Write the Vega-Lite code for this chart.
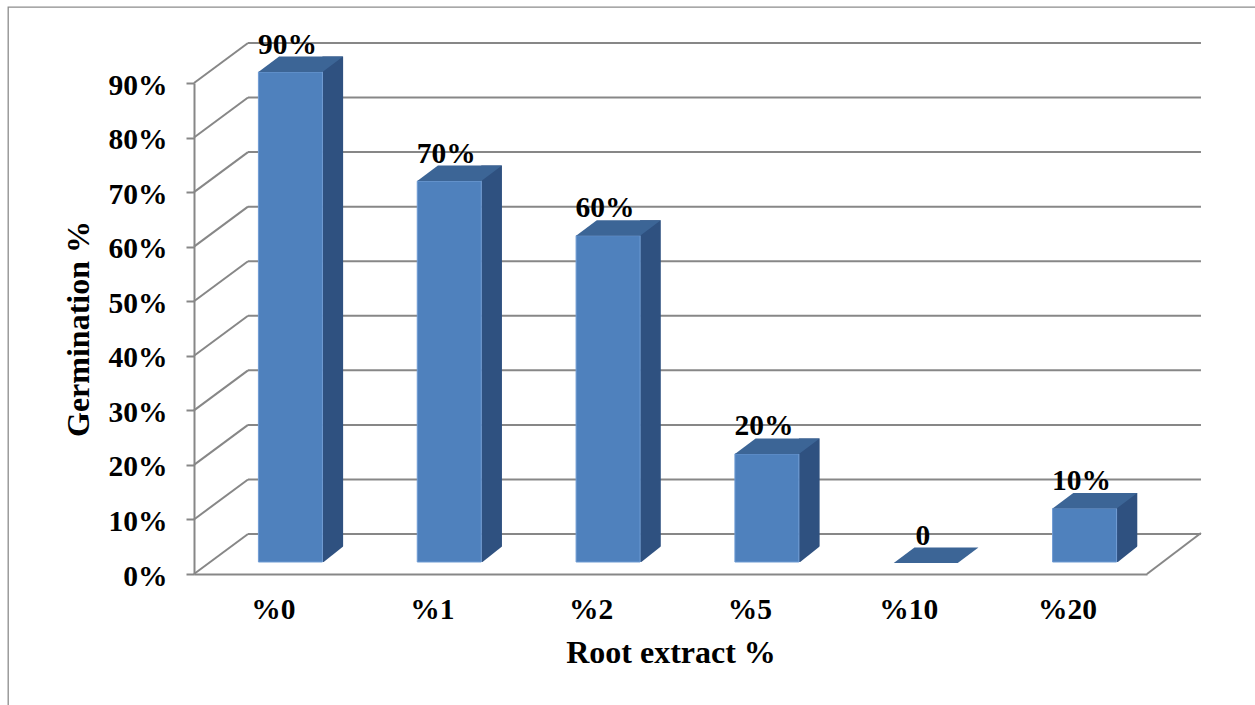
{
  "$schema": "https://vega.github.io/schema/vega-lite/v6.json",
  "width": 1249,
  "height": 700,
  "autosize": {"type": "none"},
  "padding": {"left": 8, "top": 7, "right": -2, "bottom": -2},
  "background": "white",
  "config": {
    "view": {"stroke": "#8c8c8c", "strokeWidth": 1.3},
    "font": "Liberation Serif",
    "axis": {
      "grid": false,
      "domainColor": "#878787",
      "domainWidth": 2,
      "labelFont": "Liberation Serif",
      "labelFontWeight": "bold",
      "labelFontSize": 29.5,
      "labelColor": "black",
      "titleFont": "Liberation Serif",
      "titleFontWeight": "bold",
      "titleFontSize": 32,
      "titleColor": "black"
    },
    "axisX": {"offset": -133, "ticks": false, "labelAngle": 0, "labelPadding": 21, "titlePadding": 14},
    "axisY": {"offset": -186, "tickColor": "#878787", "tickWidth": 2, "tickSize": 8, "labelPadding": 19, "labelOffset": 2, "titlePadding": 13}
  },
  "datasets": {
    "germination": [
      {"dose": "%0", "germination": 0.9, "label": "90%"},
      {"dose": "%1", "germination": 0.7, "label": "70%"},
      {"dose": "%2", "germination": 0.6, "label": "60%"},
      {"dose": "%5", "germination": 0.2, "label": "20%"},
      {"dose": "%10", "germination": 0.0, "label": "0"},
      {"dose": "%20", "germination": 0.1, "label": "10%"}
    ],
    "gridlines": [
      {"tick": 0.0}, {"tick": 0.1}, {"tick": 0.2}, {"tick": 0.3}, {"tick": 0.4},
      {"tick": 0.5}, {"tick": 0.6}, {"tick": 0.7}, {"tick": 0.8}, {"tick": 0.9}
    ]
  },
  "layer": [
    {
      "description": "back wall gridlines",
      "data": {"name": "gridlines"},
      "mark": {"type": "rule", "color": "#878787", "strokeWidth": 2, "xOffset": 54, "x2Offset": 212.8, "yOffset": -40},
      "encoding": {
        "x": {"datum": "%0", "bandPosition": 0},
        "x2": {"datum": "%20", "bandPosition": 0},
        "y": {"field": "tick", "type": "quantitative", "title": "Germination %"}
      }
    },
    {
      "description": "side wall diagonals",
      "data": {"name": "gridlines"},
      "mark": {"type": "rule", "color": "#878787", "strokeWidth": 2, "x2Offset": 54, "y2Offset": -40},
      "encoding": {
        "x": {"datum": "%0", "bandPosition": 0},
        "x2": {"datum": "%0", "bandPosition": 0},
        "y": {"field": "tick", "type": "quantitative", "title": "Germination %"},
        "y2": {"field": "tick"}
      }
    },
    {
      "description": "floor edge on the right",
      "data": {"values": [{"tick": 0}]},
      "mark": {"type": "rule", "color": "#878787", "strokeWidth": 2, "xOffset": 158.8, "x2Offset": 212.8, "y2Offset": -41},
      "encoding": {
        "x": {"datum": "%20", "bandPosition": 0},
        "x2": {"datum": "%20", "bandPosition": 0},
        "y": {"field": "tick", "type": "quantitative", "title": "Germination %"},
        "y2": {"field": "tick"}
      }
    },
    {
      "description": "bar side faces",
      "data": {"name": "germination"},
      "transform": [{"filter": "datum.germination > 0"}],
      "mark": {"type": "bar", "width": 20.7, "xOffset": 59.35, "yOffset": -26.5, "y2Offset": -12, "color": "#2F5180", "opacity": 1},
      "encoding": {
        "x": {"field": "dose", "type": "nominal", "sort": null, "title": "Root extract %"},
        "y": {"field": "germination", "type": "quantitative", "title": "Germination %"},
        "y2": {"datum": 0}
      }
    },
    {
      "description": "trim below the slanted bottom edge of each side face",
      "data": {"name": "germination"},
      "transform": [{"filter": "datum.germination > 0"}],
      "mark": {"type": "point", "shape": "M0,1L22,1L22,-16.5Z", "size": 4, "filled": true, "color": "white", "strokeWidth": 0, "opacity": 1, "xOffset": 49, "yOffset": -12},
      "encoding": {
        "x": {"field": "dose", "type": "nominal", "sort": null, "title": "Root extract %"},
        "y": {"datum": 0, "type": "quantitative"}
      }
    },
    {
      "description": "bar front faces",
      "data": {"name": "germination"},
      "transform": [{"filter": "datum.germination > 0"}],
      "mark": {"type": "bar", "width": 64, "xOffset": 17, "yOffset": -11, "y2Offset": -12, "color": "#4F81BD", "stroke": "#6f9bd3", "strokeWidth": 1, "opacity": 1},
      "encoding": {
        "x": {
          "field": "dose",
          "type": "nominal",
          "sort": null,
          "title": "Root extract %",
          "scale": {"domain": ["%0", "%1", "%2", "%5", "%10", "%20"], "range": [186, 1139], "paddingInner": 0, "paddingOuter": 0},
          "axis": {"orient": "bottom"}
        },
        "y": {
          "field": "germination",
          "type": "quantitative",
          "title": "Germination %",
          "scale": {"domain": [0, 0.9], "range": [567, 76], "nice": false, "zero": false},
          "axis": {
            "orient": "left",
            "values": [0, 0.1, 0.2, 0.3, 0.4, 0.5, 0.6, 0.7, 0.8, 0.9],
            "format": ".0%"
          }
        },
        "y2": {"datum": 0}
      }
    },
    {
      "description": "bar top faces",
      "data": {"name": "germination"},
      "mark": {"type": "point", "shape": "M0,0L64,0L84.7,-15.5L20.7,-15.5Z", "size": 4, "filled": true, "color": "#3C6596", "strokeWidth": 0, "opacity": 1, "xOffset": -15, "yOffset": -11},
      "encoding": {
        "x": {"field": "dose", "type": "nominal", "sort": null, "title": "Root extract %"},
        "y": {"field": "germination", "type": "quantitative", "title": "Germination %"}
      }
    },
    {
      "description": "value labels",
      "data": {"name": "germination"},
      "mark": {"type": "text", "font": "Liberation Serif", "fontWeight": "bold", "fontSize": 29.5, "color": "black", "align": "center", "baseline": "alphabetic", "xOffset": 14, "yOffset": -29.5},
      "encoding": {
        "x": {"field": "dose", "type": "nominal", "sort": null, "title": "Root extract %"},
        "y": {"field": "germination", "type": "quantitative", "title": "Germination %"},
        "text": {"field": "label"}
      }
    }
  ]
}
